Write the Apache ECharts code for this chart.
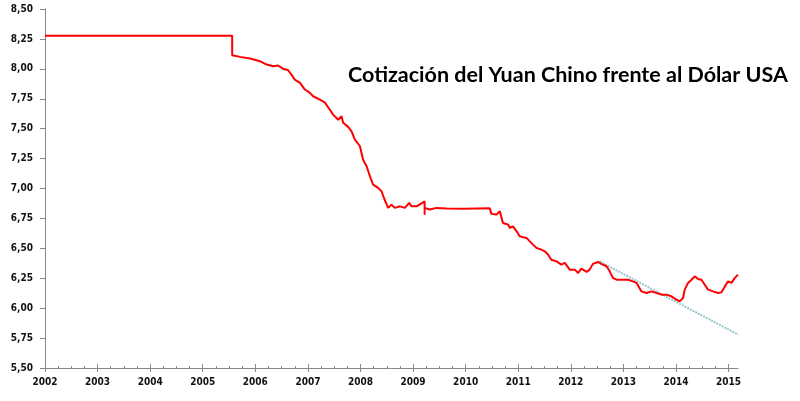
<!DOCTYPE html>
<html>
<head>
<meta charset="utf-8">
<script src="https://cdn.jsdelivr.net/npm/echarts@6/dist/echarts.min.js"></script>
<style>html,body{margin:0;padding:0;background:#fff}#c{width:800px;height:401px}</style>
</head>
<body>
<div id="c"></div>
<script>
// decimal year, CNY per USD
const yuanYears = [2002, 2005.56, 2005.56, 2005.71, 2005.90, 2006.087, 2006.215, 2006.34, 2006.435, 2006.53, 2006.625, 2006.69, 2006.75, 2006.85, 2006.943, 2007.038, 2007.10, 2007.228, 2007.32, 2007.414, 2007.48, 2007.576, 2007.64, 2007.67, 2007.766, 2007.83, 2007.894, 2007.99, 2008.05, 2008.116, 2008.18, 2008.24, 2008.336, 2008.40, 2008.46, 2008.527, 2008.59, 2008.654, 2008.75, 2008.844, 2008.926, 2008.97, 2009.067, 2009.22, 2009.22, 2009.22, 2009.316, 2009.447, 2009.637, 2009.95, 2010.46, 2010.49, 2010.587, 2010.65, 2010.71, 2010.81, 2010.84, 2010.90, 2010.97, 2011.03, 2011.158, 2011.28, 2011.35, 2011.44, 2011.506, 2011.57, 2011.63, 2011.73, 2011.82, 2011.886, 2011.98, 2012.076, 2012.14, 2012.20, 2012.30, 2012.36, 2012.42, 2012.52, 2012.58, 2012.68, 2012.74, 2012.80, 2012.87, 2012.99, 2013.09, 2013.18, 2013.25, 2013.344, 2013.44, 2013.534, 2013.63, 2013.724, 2013.82, 2013.914, 2014.01, 2014.07, 2014.135, 2014.167, 2014.23, 2014.295, 2014.357, 2014.42, 2014.485, 2014.548, 2014.61, 2014.705, 2014.80, 2014.865, 2014.93, 2014.99, 2015.055, 2015.12, 2015.18];
const yuanValues = [8.277, 8.277, 8.114, 8.10, 8.086, 8.064, 8.036, 8.022, 8.028, 8.0, 7.988, 7.95, 7.91, 7.883, 7.827, 7.799, 7.771, 7.743, 7.72, 7.66, 7.617, 7.575, 7.604, 7.549, 7.515, 7.478, 7.408, 7.353, 7.241, 7.186, 7.102, 7.033, 7.005, 6.977, 6.906, 6.838, 6.865, 6.838, 6.851, 6.838, 6.88, 6.851, 6.851, 6.893, 6.78, 6.838, 6.824, 6.838, 6.832, 6.83, 6.834, 6.788, 6.782, 6.81, 6.712, 6.698, 6.67, 6.684, 6.642, 6.60, 6.587, 6.531, 6.503, 6.489, 6.475, 6.447, 6.405, 6.391, 6.364, 6.378, 6.322, 6.322, 6.294, 6.33, 6.303, 6.322, 6.37, 6.386, 6.37, 6.35, 6.308, 6.253, 6.238, 6.238, 6.238, 6.224, 6.211, 6.14, 6.127, 6.14, 6.127, 6.113, 6.113, 6.099, 6.071, 6.057, 6.085, 6.155, 6.211, 6.238, 6.266, 6.244, 6.238, 6.196, 6.155, 6.14, 6.127, 6.132, 6.182, 6.224, 6.211, 6.253, 6.28];
const trendYears = [2012.55, 2015.18];
const trendValues = [6.39, 5.78];
const yearTicks = [2002, 2003, 2004, 2005, 2006, 2007, 2008, 2009, 2010, 2011, 2012, 2013, 2014, 2015];
const titleText = 'Cotización del Yuan Chino frente al Dólar USA';

const quarterTicks = [];
for (let y = 2002; y < 2015.2; y += 0.25) quarterTicks.push(+y.toFixed(2));

const gridPos = {left: 45, right: 62, top: 9, bottom: 33};
const labelFont = {fontFamily: 'DejaVu Sans Condensed', fontWeight: 'bold', fontSize: 10, color: '#111'};
const chart = echarts.init(document.getElementById('c'), null, {renderer: 'canvas'});
chart.setOption({
  animation: false,
  title: {
    text: titleText, left: 343, top: 59,
    textStyle: {fontFamily: 'Lato', fontWeight: 'bold', fontSize: 21.5, color: '#000'}
  },
  grid: [Object.assign({}, gridPos), Object.assign({}, gridPos), Object.assign({}, gridPos)],
  xAxis: [{
    type: 'value', gridIndex: 0, min: 2002, max: 2015.18, interval: 1,
    axisLine: {lineStyle: {color: '#888', width: 1}},
    axisTick: {show: true, length: 4, customValues: yearTicks, lineStyle: {color: '#888'}},
    axisLabel: Object.assign({customValues: yearTicks, margin: 9, formatter: v => String(Math.round(v))}, labelFont),
    splitLine: {show: false}
  }, {
    type: 'value', gridIndex: 1, min: 2002, max: 2015.18, interval: 1,
    axisLine: {show: false},
    axisTick: {show: true, inside: true, length: 4, customValues: yearTicks, lineStyle: {color: '#888'}},
    axisLabel: {show: false},
    splitLine: {show: false}
  }, {
    type: 'value', gridIndex: 2, min: 2002, max: 2015.18, interval: 1,
    axisLine: {show: false},
    axisTick: {show: true, inside: true, length: 2, customValues: quarterTicks, lineStyle: {color: '#888'}},
    axisLabel: {show: false},
    splitLine: {show: false}
  }],
  yAxis: [{
    type: 'value', gridIndex: 0, min: 5.5, max: 8.5, interval: 0.25,
    axisLine: {show: true, lineStyle: {color: '#888', width: 1}},
    axisTick: {show: true, length: 5, lineStyle: {color: '#888'}},
    axisLabel: Object.assign({margin: 12, formatter: v => v.toFixed(2).replace('.', ',')}, labelFont),
    splitLine: {show: false}
  }, {
    type: 'value', gridIndex: 1, min: 5.5, max: 8.5, interval: 0.25, show: false
  }, {
    type: 'value', gridIndex: 2, min: 5.5, max: 8.5, interval: 0.25, show: false
  }],
  series: [{
    type: 'line', xAxisIndex: 0, yAxisIndex: 0, showSymbol: false,
    data: yuanYears.map((y, i) => [y, yuanValues[i]]),
    lineStyle: {color: '#ff0000', width: 2}, z: 3
  }, {
    type: 'line', xAxisIndex: 0, yAxisIndex: 0, showSymbol: false,
    data: trendYears.map((y, i) => [y, trendValues[i]]),
    lineStyle: {color: '#9cc4d0', width: 2, type: [2, 1]}, z: 2
  }]
});
</script>
</body>
</html>
